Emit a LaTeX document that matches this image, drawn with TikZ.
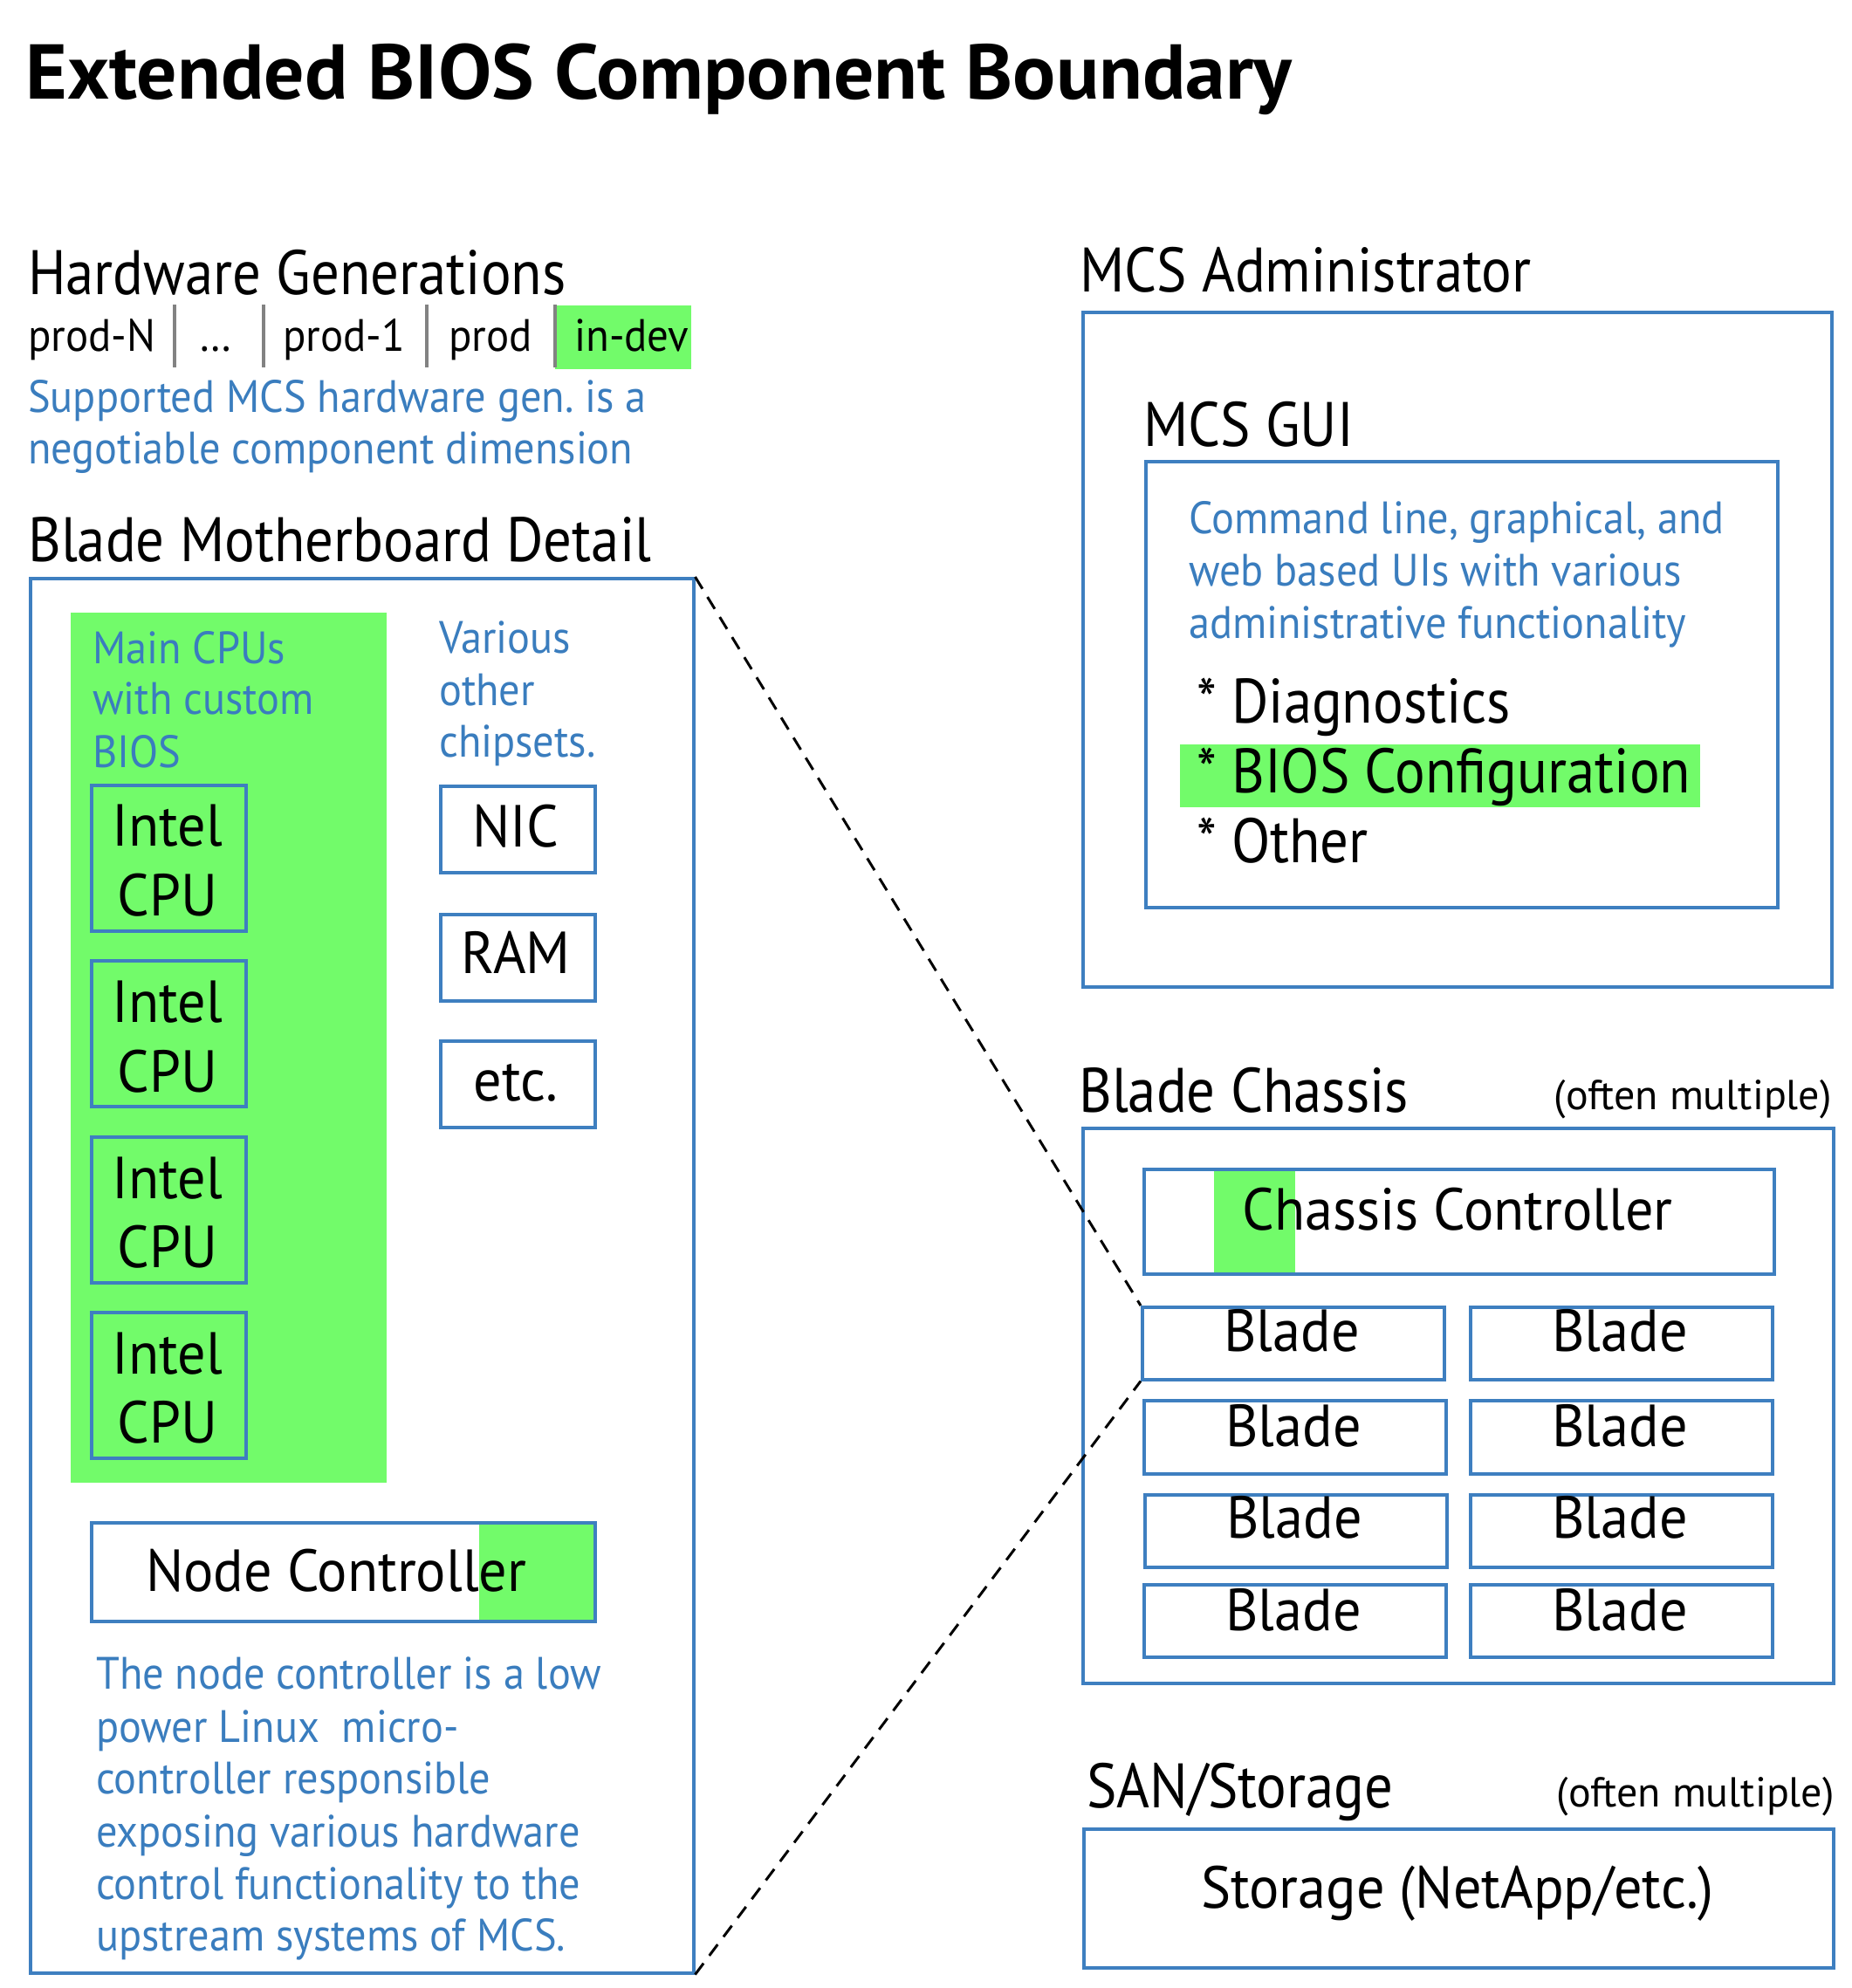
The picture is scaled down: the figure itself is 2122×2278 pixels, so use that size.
\documentclass[tikz,border=0pt]{standalone}
\usepackage{fontspec}
\setmainfont{PT Sans}
\newfontfamily\ttlF{PT Sans}[FakeStretch=1.03]
\newfontfamily\hdF{PT Sans}[FakeStretch=0.90]
\newfontfamily\bxF{PT Sans}[FakeStretch=0.945]
\newfontfamily\blF{PT Sans}[FakeStretch=0.93]
\newfontfamily\gnF{PT Sans}[FakeStretch=0.94]
\frenchspacing
\definecolor{bblue}{RGB}{62,127,192}
\definecolor{tblue}{RGB}{58,125,190}
\definecolor{bgreen}{RGB}{114,251,106}
\definecolor{sepgray}{RGB}{130,130,130}
\newcommand\fTitle{\ttlF\fontsize{89}{100}\bfseries\selectfont}
\newcommand\fHead{\hdF\fontsize{72}{80}\selectfont}
\newcommand\fGen{\gnF\fontsize{52}{60}\selectfont}
\newcommand\fBlue{\blF\fontsize{52}{60}\selectfont\color{tblue}}
\newcommand\fBox{\bxF\fontsize{68}{76}\selectfont}
\newcommand\fSmall{\fontsize{48}{56}\selectfont}
\tikzset{
  bx/.style={draw=bblue, line width=3.5pt, inner sep=0pt, anchor=north west},
  gfill/.style={fill=bgreen, draw=none, inner sep=0pt, anchor=north west},
  tl/.style={inner sep=0pt, anchor=base west},
  tc/.style={inner sep=0pt, anchor=base},
  tr/.style={inner sep=0pt, anchor=base east},
  sep/.style={draw=sepgray, line width=4pt},
  zoomline/.style={draw=black, line width=3pt, dash pattern=on 16pt off 11pt},
}
\begin{document}
\begin{tikzpicture}[x=1pt,y=-1pt]
\useasboundingbox (0,0) rectangle (2122,2278);
% Title
\node[tl,font=\fTitle] (title) at (29,113) {Extended BIOS Component Boundary};
% Hardware generations
\node[tl,font=\fHead] (hwgen) at (32,337) {Hardware Generations};
\node[gfill, minimum width=156, minimum height=73] (devbg) at (636,350) {};
\node[tl,font=\fGen] (g1) at (32,402) {prod-N};
\node[tl,font=\fGen] (g2) at (228,402) {\dots};
\node[tl,font=\fGen] (g3) at (324,402) {prod-1};
\node[tl,font=\fGen] (g4) at (514,402) {prod};
\node[tl,font=\fGen] (g5) at (658,402) {in-dev};
\coordinate (s1a) at (200,349); \coordinate (s1b) at (200,421);
\coordinate (s2a) at (302,349); \coordinate (s2b) at (302,421);
\coordinate (s3a) at (489,349); \coordinate (s3b) at (489,421);
\coordinate (s4a) at (636,349); \coordinate (s4b) at (636,421);
\draw[sep] (s1a) -- (s1b);
\draw[sep] (s2a) -- (s2b);
\draw[sep] (s3a) -- (s3b);
\draw[sep] (s4a) -- (s4b);
\node[tl,font=\fBlue] (hw1) at (32,472) {Supported MCS hardware gen. is a};
\node[tl,font=\fBlue] (hw2) at (32,531) {negotiable component dimension};
% Blade motherboard
\node[tl,font=\fHead] (mbh) at (32,643) {Blade Motherboard Detail};
\node[bx, minimum width=760, minimum height=1598] (mb) at (33,661) {};
\node[gfill, minimum width=362, minimum height=997] (cpubg) at (81,702) {};
\node[tl,font=\fBlue] (mc1) at (106,760) {Main CPUs};
\node[tl,font=\fBlue] (mc2) at (106,818) {with custom};
\node[tl,font=\fBlue] (mc3) at (106,879) {BIOS};
\node[bx, minimum width=177, minimum height=167] (cpu1) at (103,898) {};
\node[bx, minimum width=177, minimum height=167] (cpu2) at (103,1099) {};
\node[bx, minimum width=177, minimum height=167] (cpu3) at (103,1301) {};
\node[bx, minimum width=177, minimum height=167] (cpu4) at (103,1502) {};
\node[tc,font=\fBox] (c1a) at (192,969) {Intel};
\node[tc,font=\fBox] (c1b) at (192,1049) {CPU};
\node[tc,font=\fBox] (c2a) at (192,1171) {Intel};
\node[tc,font=\fBox] (c2b) at (192,1251) {CPU};
\node[tc,font=\fBox] (c3a) at (192,1373) {Intel};
\node[tc,font=\fBox] (c3b) at (192,1452) {CPU};
\node[tc,font=\fBox] (c4a) at (192,1574) {Intel};
\node[tc,font=\fBox] (c4b) at (192,1653) {CPU};
\node[tl,font=\fBlue] (vo1) at (503,748) {Various};
\node[tl,font=\fBlue] (vo2) at (503,808) {other};
\node[tl,font=\fBlue] (vo3) at (503,867) {chipsets.};
\node[bx, minimum width=177, minimum height=99] (nic) at (503,899) {};
\node[bx, minimum width=177, minimum height=99] (ram) at (503,1046) {};
\node[bx, minimum width=177, minimum height=99] (etc) at (503,1191) {};
\node[tc,font=\fBox] (nict) at (591,970) {NIC};
\node[tc,font=\fBox] (ramt) at (591,1115) {RAM};
\node[tc,font=\fBox] (etct) at (591,1261) {etc.};
\node[gfill, minimum width=131, minimum height=113] (ncbg) at (549,1743) {};
\node[bx, minimum width=577, minimum height=113] (nc) at (103,1743) {};
\node[tl,font=\fBox] (nct) at (167,1823) {Node Controller};
\node[tl,font=\fBlue] (p1) at (110,1935) {The node controller is a low};
\node[tl,font=\fBlue] (p2) at (110,1996) {power Linux\ \ micro-};
\node[tl,font=\fBlue] (p3) at (110,2055) {controller responsible};
\node[tl,font=\fBlue] (p4) at (110,2116) {exposing various hardware};
\node[tl,font=\fBlue] (p5) at (110,2176) {control functionality to the};
\node[tl,font=\fBlue] (p6) at (110,2235) {upstream systems of MCS.};
% MCS Administrator
\node[tl,font=\fHead] (admh) at (1237,334) {MCS Administrator};
\node[bx, minimum width=858, minimum height=773] (adm) at (1239,356) {};
\node[tl,font=\fHead] (guih) at (1310,511) {MCS GUI};
\node[bx, minimum width=724, minimum height=511] (gui) at (1311,527) {};
\node[tl,font=\fBlue] (gb1) at (1362,611) {Command line, graphical, and};
\node[tl,font=\fBlue] (gb2) at (1362,671) {web based UIs with various};
\node[tl,font=\fBlue] (gb3) at (1362,731) {administrative functionality};
\node[gfill, minimum width=596, minimum height=72] (biosbg) at (1352,853) {};
\node[tl,font=\fHead] (it1) at (1371,828) {* Diagnostics};
\node[tl,font=\fHead] (it2) at (1371,908) {* BIOS Configuration};
\node[tl,font=\fHead] (it3) at (1371,988) {* Other};
% Blade Chassis
\node[tl,font=\fHead] (chh) at (1236,1274) {Blade Chassis};
\node[tr,font=\fSmall] (chm) at (2099,1271) {(often multiple)};
\node[bx, minimum width=860, minimum height=636] (ch) at (1239,1291) {};
\node[gfill, minimum width=93, minimum height=123] (ccbg) at (1391,1339) {};
\node[bx, minimum width=722, minimum height=120] (cc) at (1309,1338) {};
\node[tc,font=\fBox] (cct) at (1670,1409) {Chassis Controller};
\node[bx, minimum width=346, minimum height=83] (b11) at (1307,1496) {};
\node[bx, minimum width=346, minimum height=83] (b12) at (1683,1496) {};
\node[bx, minimum width=346, minimum height=84] (b21) at (1309,1603) {};
\node[bx, minimum width=346, minimum height=84] (b22) at (1683,1603) {};
\node[bx, minimum width=346, minimum height=83] (b31) at (1310,1711) {};
\node[bx, minimum width=346, minimum height=83] (b32) at (1683,1711) {};
\node[bx, minimum width=346, minimum height=83] (b41) at (1309,1814) {};
\node[bx, minimum width=346, minimum height=83] (b42) at (1683,1814) {};
\node[tc,font=\fBox] (bt11) at (1480,1548) {Blade};
\node[tc,font=\fBox] (bt12) at (1856,1548) {Blade};
\node[tc,font=\fBox] (bt21) at (1482,1657) {Blade};
\node[tc,font=\fBox] (bt22) at (1856,1657) {Blade};
\node[tc,font=\fBox] (bt31) at (1483,1762) {Blade};
\node[tc,font=\fBox] (bt32) at (1856,1762) {Blade};
\node[tc,font=\fBox] (bt41) at (1482,1868) {Blade};
\node[tc,font=\fBox] (bt42) at (1856,1868) {Blade};
% SAN
\node[tl,font=\fHead] (sanh) at (1245,2071) {SAN/Storage};
\node[tr,font=\fSmall] (sanm) at (2102,2070) {(often multiple)};
\node[bx, minimum width=859, minimum height=159] (san) at (1240,2094) {};
\node[tc,font=\fBox] (sant) at (1670,2186) {Storage (NetApp/etc.)};
% zoom lines
\draw[zoomline] (mb.north east) -- (b11.north west);
\draw[zoomline] (mb.south east) -- (b11.south west);
\end{tikzpicture}
\end{document}
